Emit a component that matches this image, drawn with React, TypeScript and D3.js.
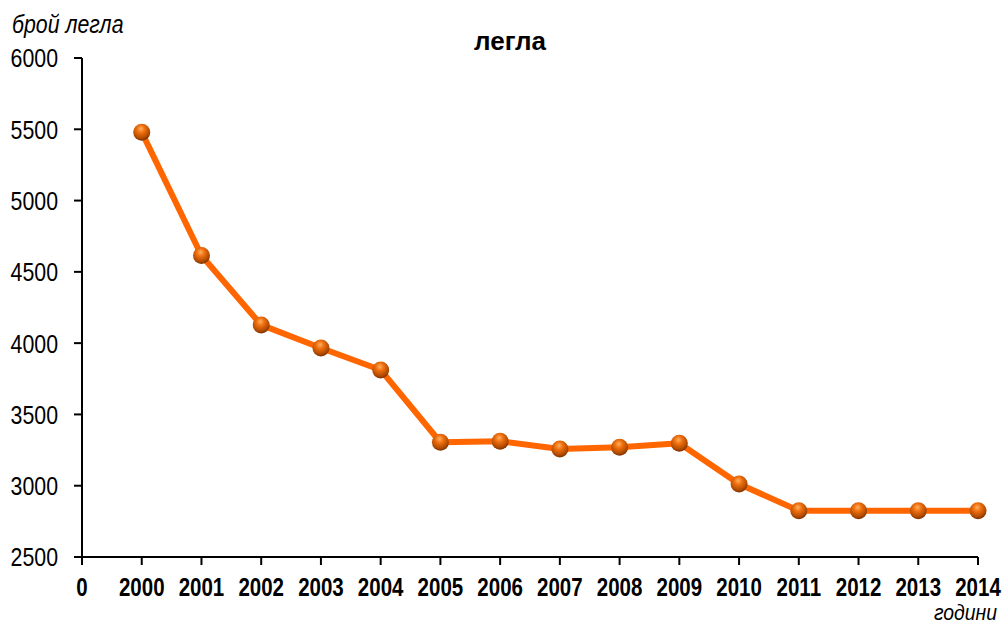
import * as d3 from 'd3';

const years = ['2000', '2001', '2002', '2003', '2004', '2005', '2006', '2007', '2008', '2009', '2010', '2011', '2012', '2013', '2014'];
const beds = [5480, 4615, 4128, 3966, 3812, 3305, 3312, 3258, 3270, 3298, 3012, 2825, 2825, 2825, 2825];
const yTicks = [2500, 3000, 3500, 4000, 4500, 5000, 5500, 6000];
const xTickLabels = ['0', ...years];

const W = 1005;
const H = 625;
const sans = '"Liberation Sans", Arial, sans-serif';
// no Arial Narrow installed, so squeeze Liberation Sans horizontally
const SQ = 0.82;

export default function App() {
  const x = d3.scaleLinear().domain([0, years.length]).range([82, 978]);
  const y = d3.scaleLinear().domain([2500, 6000]).range([557, 58]);

  const pts = beds.map((v, i) => [x(i + 1), y(v)] as [number, number]);
  const line = d3.line()(pts) || '';

  return (
    <svg width={W} height={H} style={{ position: 'absolute', left: 0, top: 0 }}>
      <defs>
        <radialGradient id="ball" cx="45%" cy="35%" r="65%" fx="45%" fy="30%">
          <stop offset="0%" stopColor="#ffb060" />
          <stop offset="35%" stopColor="#f07010" />
          <stop offset="80%" stopColor="#b04a00" />
          <stop offset="100%" stopColor="#7a3000" />
        </radialGradient>
      </defs>
      <rect width={W} height={H} fill="#fff" />

      <text x={510} y={50} textAnchor="middle" fontFamily={sans} fontWeight="bold" fontSize={26}>легла</text>
      <text transform={`translate(12,33) scale(${SQ},1)`} fontFamily={sans} fontStyle="italic" fontSize={26}>брой легла</text>
      <text transform={`translate(997,620) scale(0.88,1)`} textAnchor="end" fontFamily={sans} fontStyle="italic" fontSize={22}>години</text>

      {/* y axis */}
      <line x1={82} x2={82} y1={y(6000)} y2={y(2500)} stroke="#000" strokeWidth={2} />
      {yTicks.map(t => (
        <g key={t}>
          <line x1={74} x2={82} y1={y(t)} y2={y(t)} stroke="#000" strokeWidth={2} />
          <text transform={`translate(58,${y(t)}) scale(${SQ},1)`} dy="0.36em" textAnchor="end" fontFamily={sans} fontSize={26}>{t}</text>
        </g>
      ))}

      {/* x axis */}
      <line x1={x(0)} x2={x(years.length)} y1={557} y2={557} stroke="#000" strokeWidth={2} />
      {xTickLabels.map((lab, i) => (
        <g key={lab}>
          <line x1={x(i)} x2={x(i)} y1={557} y2={565} stroke="#000" strokeWidth={2} />
          <text transform={`translate(${x(i)},596) scale(${SQ},1)`} textAnchor="middle" fontFamily={sans} fontWeight="bold" fontSize={25}>{lab}</text>
        </g>
      ))}

      <path d={line} fill="none" stroke="#ff6600" strokeWidth={6} strokeLinejoin="round" />
      {pts.map((p, i) => (
        <circle key={i} cx={p[0]} cy={p[1]} r={8.5} fill="url(#ball)" />
      ))}
    </svg>
  );
}
